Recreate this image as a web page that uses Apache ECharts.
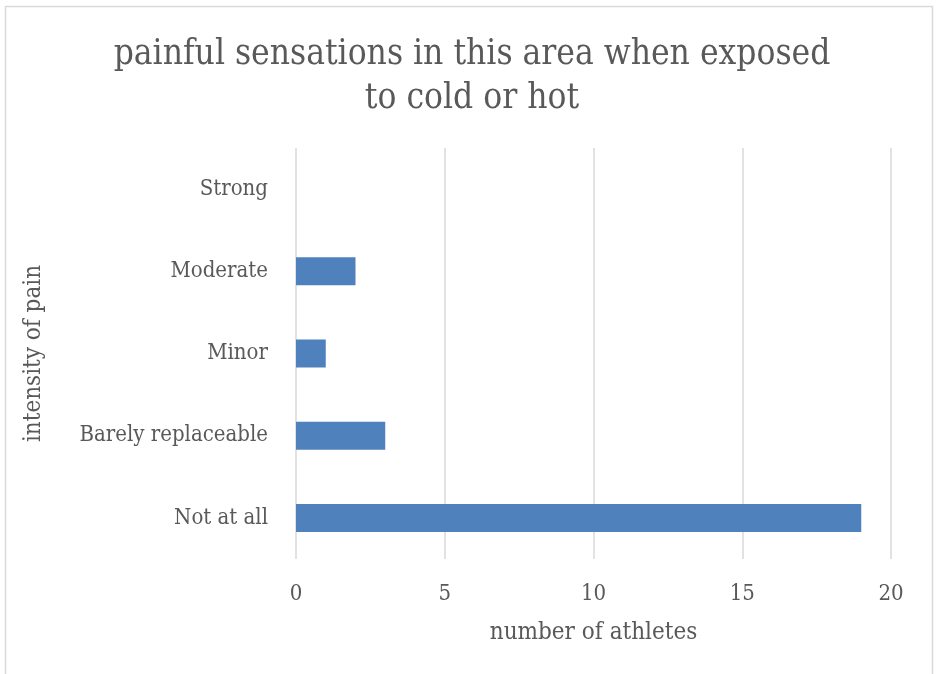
<!DOCTYPE html>
<html>
<head>
<meta charset="utf-8">
<script src="https://cdn.jsdelivr.net/npm/echarts@6/dist/echarts.min.js"></script>
<style>
  html, body { margin: 0; padding: 0; background: #fff; }
  #chart { width: 936px; height: 674px; }
</style>
</head>
<body>
<div id="chart"></div>
<script>
// Pain intensity categories, listed bottom to top on the vertical axis
const categories = ['Not at all', 'Barely replaceable', 'Minor', 'Moderate', 'Strong'];
// Number of athletes per category
const athletes = [19, 3, 1, 2, 0];
const titleText = 'painful sensations in this area when exposed\nto cold or hot';
const xAxisName = 'number of athletes';
const yAxisName = 'intensity of pain';

const FONT = '"DejaVu Serif Condensed", "Liberation Serif", serif';
const TEXT = '#595959';
const GRID = '#d9d9d9';

const chart = echarts.init(document.getElementById('chart'), null, { renderer: 'canvas' });
chart.setOption({
  backgroundColor: '#fff',
  animation: false,
  graphic: [{
    type: 'rect',
    shape: { x: 5.5, y: 6.5, width: 927, height: 700 },
    style: { fill: 'none', stroke: '#d9d9d9', lineWidth: 1.5 },
    silent: true
  }],
  title: {
    text: titleText,
    left: 467,
    top: 28,
    textAlign: 'center',
    textStyle: { fontFamily: FONT, fontSize: 35, fontWeight: 'normal', color: TEXT, lineHeight: 44 }
  },
  grid: { left: 296, right: 45, top: 148, bottom: 115, containLabel: false },
  xAxis: {
    type: 'value',
    min: 0, max: 20, interval: 5,
    name: xAxisName,
    nameLocation: 'middle',
    nameGap: 62,
    nameTextStyle: { fontFamily: FONT, fontSize: 24, color: TEXT },
    axisLine: { show: false },
    axisTick: { show: false },
    axisLabel: { fontFamily: FONT, fontSize: 22, color: TEXT, margin: 24 },
    splitLine: { show: true, lineStyle: { color: GRID, width: 1.5 } }
  },
  yAxis: {
    type: 'category',
    data: categories,
    name: yAxisName,
    nameLocation: 'middle',
    nameGap: 250,
    nameRotate: 90,
    nameTextStyle: { fontFamily: FONT, fontSize: 24, color: TEXT },
    axisLine: { show: false },
    axisTick: { show: false },
    axisLabel: { fontFamily: FONT, fontSize: 22, color: TEXT, margin: 28 }
  },
  series: [{
    type: 'bar',
    data: athletes,
    barWidth: 28,
    itemStyle: { color: '#4F81BD' },
    silent: true
  }]
});
</script>
</body>
</html>
